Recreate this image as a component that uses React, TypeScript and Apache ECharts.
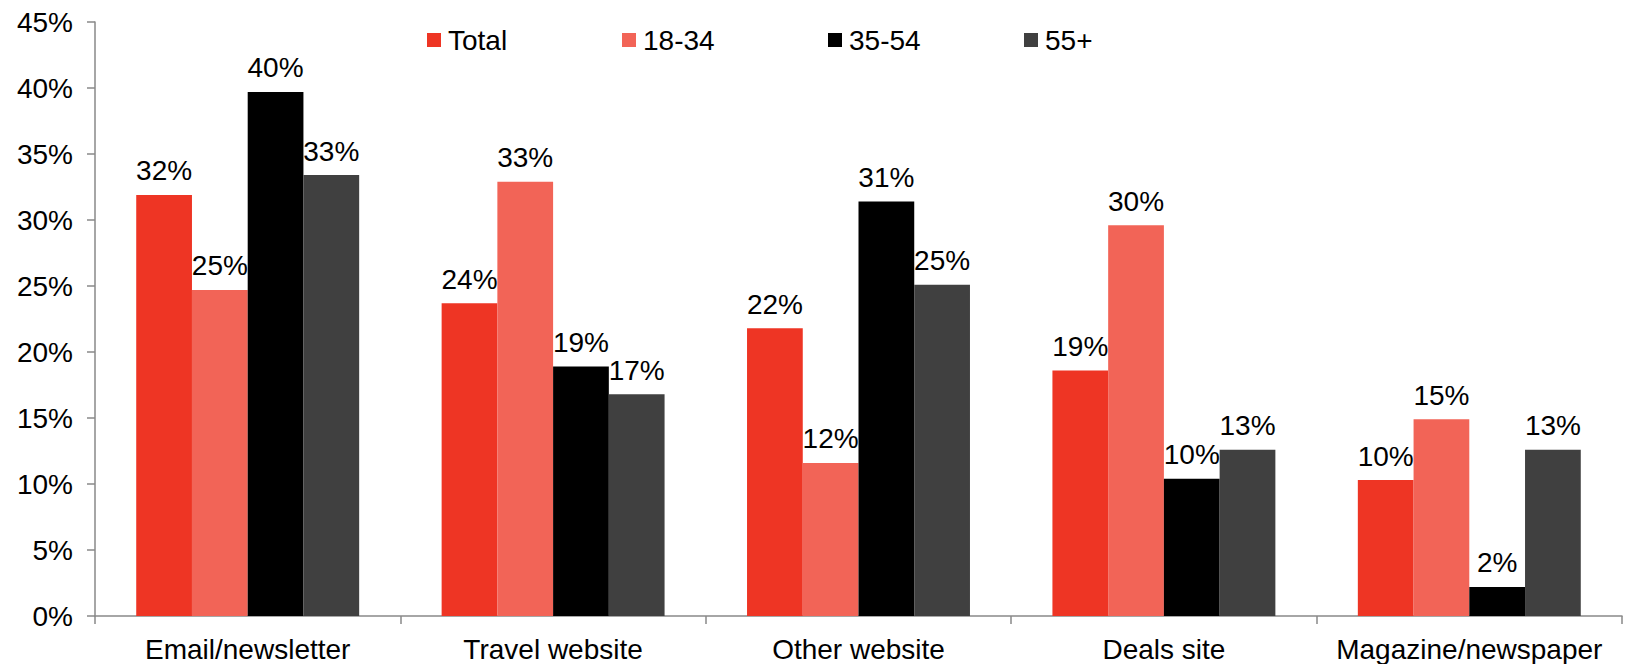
import React, { useEffect, useRef } from "react";
import * as echarts from "echarts";

const categories = ["Email/newsletter", "Travel website", "Other website", "Deals site", "Magazine/newspaper"];
const seriesNames = ["Total", "18-34", "35-54", "55+"];
const total = [31.9, 23.7, 21.8, 18.6, 10.3];
const age18to34 = [24.7, 32.9, 11.6, 29.6, 14.9];
const age35to54 = [39.7, 18.9, 31.4, 10.4, 2.2];
const age55plus = [33.4, 16.8, 25.1, 12.6, 12.6];
const colors = ["#EE3524", "#F26457", "#000000", "#404040"];
const yTicks = [0, 5, 10, 15, 20, 25, 30, 35, 40, 45];

const FONT = "'Liberation Sans', Arial, sans-serif";
const FS = 28;
const legendLefts = [422, 617, 823, 1019];

export default function App() {
  const ref = useRef<HTMLDivElement>(null);
  useEffect(() => {
    if (!ref.current) return;
    const chart = echarts.init(ref.current, undefined, { renderer: "svg" });
    const data = [total, age18to34, age35to54, age55plus];
    chart.setOption({
      animation: false,
      textStyle: { fontFamily: FONT },
      grid: { left: 95, right: 3, top: 22, bottom: 48, containLabel: false },
      legend: seriesNames.map((name, i) => ({
        data: [name],
        left: legendLefts[i],
        top: 21,
        itemWidth: 14,
        itemHeight: 14,
        icon: "rect",
        textStyle: { fontSize: FS, color: "#000", fontFamily: FONT, padding: [0, 0, 0, 2] },
      })),
      xAxis: {
        type: "category",
        data: categories,
        axisLine: { lineStyle: { color: "#898989", width: 1.5 } },
        axisTick: { show: true, length: 8, lineStyle: { color: "#898989", width: 1.5 } },
        axisLabel: { fontSize: FS, color: "#000", margin: 19, fontFamily: FONT, interval: 0 },
      },
      yAxis: {
        type: "value",
        min: yTicks[0],
        max: yTicks[yTicks.length - 1],
        interval: 5,
        axisLine: { show: true, lineStyle: { color: "#898989", width: 1.5 } },
        axisTick: { show: true, length: 8, lineStyle: { color: "#898989", width: 1.5 } },
        splitLine: { show: false },
        axisLabel: { fontSize: FS, color: "#000", margin: 22, fontFamily: FONT, formatter: (v: number) => v + "%" },
      },
      series: seriesNames.map((name, i) => ({
        name,
        type: "bar",
        data: data[i],
        barGap: "0%",
        barCategoryGap: "27%",
        itemStyle: { color: colors[i] },
        label: {
          show: true,
          position: "top",
          distance: 10,
          fontSize: FS,
          color: "#000",
          fontFamily: FONT,
          formatter: (p: any) => Math.round(p.value) + "%",
        },
      })),
    });
    return () => chart.dispose();
  }, []);
  return <div ref={ref} style={{ width: 1625, height: 664, position: "absolute", left: 0, top: 0 }} />;
}
